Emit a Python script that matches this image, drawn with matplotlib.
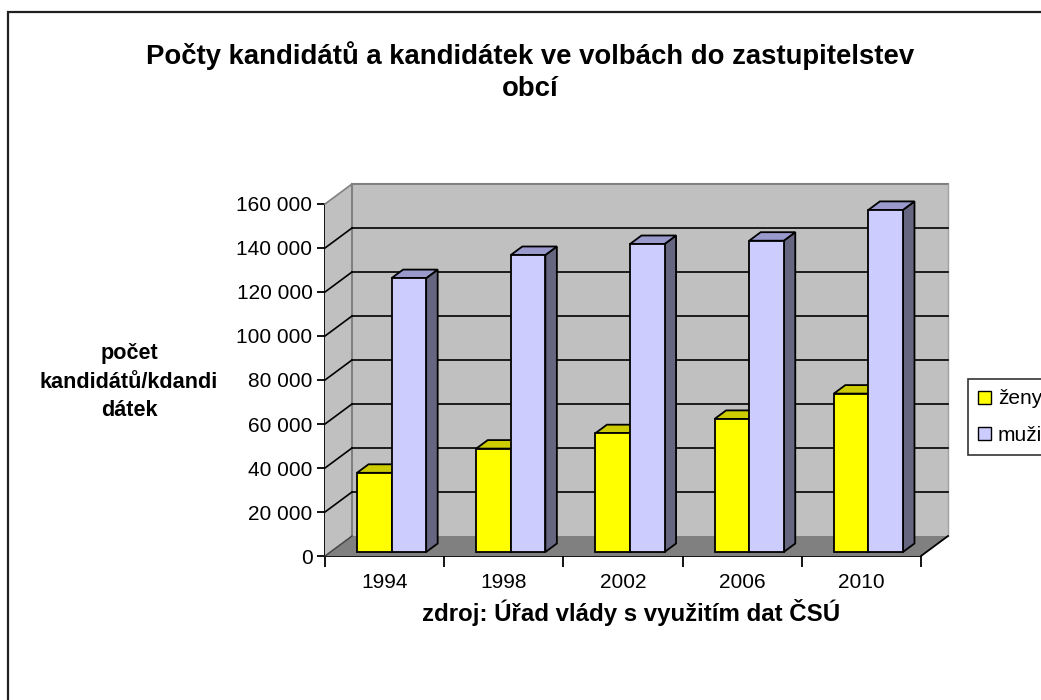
import matplotlib
matplotlib.use("Agg")
import matplotlib.pyplot as plt
import numpy as np
from matplotlib.patches import Polygon, Rectangle
from matplotlib.transforms import IdentityTransform

# ---- data ----
years = ["1994", "1998", "2002", "2006", "2010"]
zeny = [36000, 47000, 54000, 60500, 72000]
muzi = [124500, 135000, 140000, 141500, 155500]
series_names = ["ženy", "muži"]
yticks = [0, 20000, 40000, 60000, 80000, 100000, 120000, 140000, 160000]

title = "Počty kandidátů a kandidátek ve volbách do zastupitelstev\nobcí"
ylabel = "počet\nkandidátů/kdandi\ndátek"
xlabel = "zdroj: Úřad vlády s využitím dat ČSÚ"

plt.rcParams['font.family'] = ['Liberation Sans', 'DejaVu Sans']

W, H = 1041, 700
DPI = 100
fig = plt.figure(figsize=(W / DPI, H / DPI), dpi=DPI)
fig.patch.set_facecolor("white")

# front plane of the 3-D box
ax = fig.add_axes([325 / W, (H - 556) / H, (921 - 325) / W, (556 - 204) / H])
ax.set_xlim(-0.5, len(years) - 0.5)
ax.set_ylim(0, yticks[-1])
ax.patch.set_visible(False)
for s in ["top", "right"]:
    ax.spines[s].set_visible(False)
ax.spines["left"].set_linewidth(1.3)
ax.spines["bottom"].set_linewidth(1.3)
ax.spines["left"].set_zorder(10)
ax.spines["bottom"].set_zorder(10)

DEPTH = np.array([27.0, 20.0])  # pixel offset of the back wall


def pt(x, y, d=0.0):
    p = ax.transData.transform((x, y))
    return p + d * DEPTH


def poly(points, **kw):
    pg = Polygon(points, closed=True, transform=IdentityTransform(), clip_on=False, **kw)
    fig.add_artist(pg)
    return pg


def line(p0, p1, **kw):
    fig.add_artist(plt.Line2D([p0[0], p1[0]], [p0[1], p1[1]],
                              transform=IdentityTransform(), **kw))


x0, x1 = -0.5, len(years) - 0.5
ytop = yticks[-1]

# side wall
poly([pt(x0, 0), pt(x0, ytop), pt(x0, ytop, 1), pt(x0, 0, 1)],
     facecolor="#c0c0c0", edgecolor="none", zorder=1)
# back wall
poly([pt(x0, 0, 1), pt(x0, ytop, 1), pt(x1, ytop, 1), pt(x1, 0, 1)],
     facecolor="#c0c0c0", edgecolor="none", zorder=1)
# back wall / side wall outline (grey)
line(pt(x0, 0, 1), pt(x0, ytop, 1), color="#808080", lw=1.5, zorder=2)
line(pt(x0, ytop, 1), pt(x1, ytop, 1), color="#808080", lw=1.5, zorder=2)
line(pt(x1, ytop, 1), pt(x1, 0, 1), color="#a0a0a0", lw=1.0, zorder=2)
line(pt(x0, ytop, 0), pt(x0, ytop, 1), color="#808080", lw=1.2, zorder=2)

# gridlines
for yv in yticks[1:-1]:
    line(pt(x0, yv, 1), pt(x1, yv, 1), color="black", lw=1.2, zorder=2)
    line(pt(x0, yv, 0), pt(x0, yv, 1), color="black", lw=1.2, zorder=2)

# floor
poly([pt(x0, 0), pt(x1, 0), pt(x1, 0, 1), pt(x0, 0, 1)],
     facecolor="#808080", edgecolor="none", zorder=2)
line(pt(x1, 0, 0), pt(x1, 0, 1), color="black", lw=1.3, zorder=3)
line(pt(x0, 0, 0), pt(x0, 0, 1), color="#404040", lw=1.0, zorder=3)

# bars
bw = 0.29
front_off = np.array([7.0, 4.0])
bar_depth = np.array([11.5, 8.5])
styles = [
    dict(front="#ffff00", top="#cccc00", side="#808000"),
    dict(front="#ccccff", top="#9999cc", side="#666680"),
]
xs = np.arange(len(years))
z = 5
for i in xs:
    for k, vals in enumerate([zeny, muzi]):
        xc = i + (k - 0.5) * bw
        v = vals[i]
        st = styles[k]
        fl = pt(xc - bw / 2, 0) + front_off
        fr = pt(xc + bw / 2, 0) + front_off
        tl = pt(xc - bw / 2, v) + front_off
        tr = pt(xc + bw / 2, v) + front_off
        # side
        poly([fr, tr, tr + bar_depth, fr + bar_depth], facecolor=st["side"],
             edgecolor="black", lw=1.3, zorder=z)
        # top
        poly([tl, tr, tr + bar_depth, tl + bar_depth], facecolor=st["top"],
             edgecolor="black", lw=1.3, zorder=z)
        # front
        poly([fl, tl, tr, fr], facecolor=st["front"], edgecolor="black",
             lw=1.3, zorder=z + 0.5)
        z += 1

# ticks
ax.set_yticks(yticks)
ax.set_yticklabels([f"{v:,}".replace(",", " ") for v in yticks], fontsize=15)
ax.tick_params(axis="y", length=6, width=1.3, pad=3)
ax.set_xticks(xs)
ax.set_xticklabels(years, fontsize=15)
ax.set_xticks(np.arange(len(years) + 1) - 0.5, minor=True)
ax.tick_params(axis="x", which="major", length=0, pad=12)
ax.tick_params(axis="x", which="minor", length=8, width=1.3)

# texts
fig.text(530.5 / W, 1 - 41 / H, title, ha="center", va="top", fontsize=19.8,
         fontweight="bold", linespacing=1.29)
fig.text(129 / W, 1 - 382 / H, ylabel, ha="center", va="center", fontsize=15.6,
         fontweight="bold", linespacing=1.44)
fig.text(631.5 / W, 1 - 613 / H, xlabel, ha="center", va="center", fontsize=17.3,
         fontweight="bold")

# legend
handles = [Rectangle((0, 0), 1, 1, facecolor=styles[k]["front"], edgecolor="black", lw=1)
           for k in range(2)]
leg = fig.legend(handles, series_names, loc="upper left",
                 bbox_to_anchor=(968 / W, 1 - 379 / H), fontsize=15,
                 frameon=True, fancybox=False, edgecolor="black",
                 handlelength=0.58, handleheight=0.58, handletextpad=0.35,
                 borderpad=0.5, labelspacing=0.82, borderaxespad=0)
leg.get_frame().set_linewidth(1.2)

# outer chart frame (left and top visible)
fig.add_artist(Rectangle((8 / W, -0.5), 2.0, 0.5 + 1 - 12 / H,
                         transform=fig.transFigure, facecolor="none",
                         edgecolor="#202020", lw=1.6, clip_on=False, zorder=0))

fig.savefig("out.png", dpi=DPI)
